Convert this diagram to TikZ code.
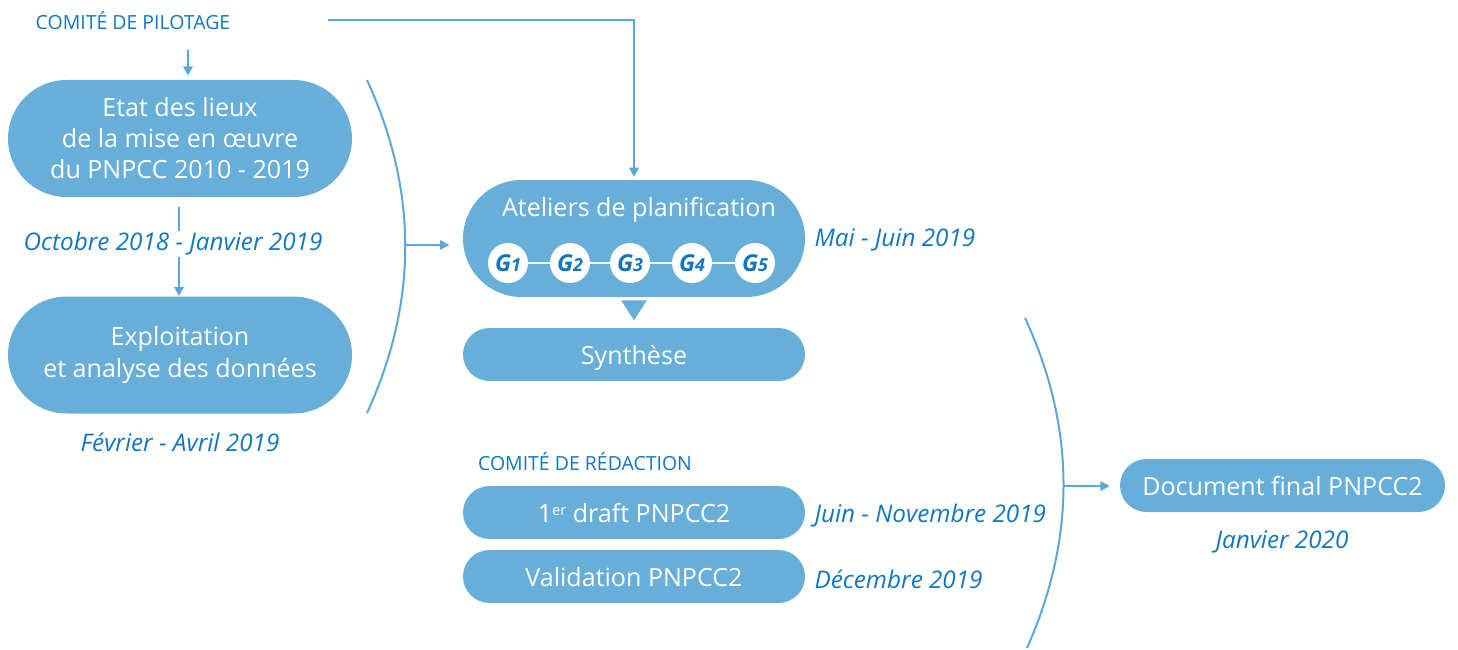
\documentclass[tikz,border=0pt]{standalone}
\usepackage{fontspec}
\setmainfont{Open Sans}
\usepackage{tikz}
\usepackage{xcolor}
\usetikzlibrary{shapes.misc}
\usetikzlibrary{arrows.meta}
\definecolor{boxblue}{HTML}{67AED9}
\definecolor{textblue}{HTML}{1477BD}
\definecolor{lineblue}{HTML}{5AA8D8}

\begin{document}
\begin{tikzpicture}[x=0.75pt,y=-0.75pt,
        pill/.style={rounded rectangle,fill=boxblue,text=white,align=center,inner sep=0pt,
            font=\fontsize{18.8}{23.3}\selectfont},
        bigpill/.style={pill,minimum width=258pt,minimum height=87.75pt},
        smallpill/.style={pill,minimum width=256.5pt,minimum height=39.75pt,text depth=0pt},
        date/.style={text=textblue,font=\fontsize{18.2}{22}\selectfont\itshape,inner sep=1pt},
        comite/.style={text=textblue,font=\fontsize{14.6}{17}\selectfont},
        link/.style={lineblue,line width=1.5pt},
        arr/.style={link,-{Triangle[length=7pt,width=7pt]}},
        gnode/.style={circle,fill=white,minimum size=30pt,inner sep=0pt,text=textblue,
            font=\fontsize{17.5}{20}\selectfont\bfseries\itshape}]
                    \useasboundingbox (0,0) rectangle (1458,649);

                    % left column
                    \node[comite] (pil) at (133,21){COMITÉ DE PILOTAGE};
                    \node[bigpill] (etat) at (180,138.5){Etat des lieux\\de la mise en œuvre\\du PNPCC 2010 - 2019};
                    \node[bigpill] (exploit) at (180,355){Exploitation\\et analyse des données};
                    \draw[arr,shorten <=7pt] (etat.south -| 179,0) -- (exploit.north -| 179,0);
                    \node[date,fill=white] (oct) at (173,244){Octobre 2018 - Janvier 2019};
                    \node[date] (fev) at (180,442){Février - Avril 2019};
                    \draw[arr,shorten <=11pt,shorten >=3pt] (pil.south -| 188,0) -- (etat.north -| 188,0);

                    % ateliers
                    \node[bigpill,minimum width=256.5pt] (atel) at (634,238.5){};
                    \node[pill] (ateltitle) at (639,210){Ateliers de planification};
                    \foreach \i/\x in {1/508,2/570,3/630,4/692,5/755}
                        \node[gnode] (g\i) at (\x,263){G\fontsize{13.5}{15}\selectfont\i};
                    \foreach \a/\b in {g1/g2,g2/g3,g3/g4,g4/g5}
                        \draw[white,line width=1.5pt] (\a) -- (\b);
                    \node[date,anchor=west] (mai) at (813,240){Mai - Juin 2019};
                    \coordinate (pilend) at (328,20);
                    \draw[arr,shorten >=2pt] (pilend) -| (atel.north);

                    \node[smallpill] (synth) at (634,354.5){Synthèse};
                    \fill[boxblue] (atel.south) ++(-13,3) -- ++(26,0) -- ++(-13,20) -- cycle;

                    % left bracket
                    \draw[link] (367,80) .. controls (418,191) and (418,302) .. (367,413);
                    \coordinate (brl) at (405,245);
                    \draw[arr,shorten >=10pt] (brl) -- (brl -| atel.west);

                    % redaction
                    \node[comite] (redac) at (585,462){COMITÉ DE RÉDACTION};
                    \node[smallpill] (draft) at (634,512.5){1{\fontsize{11}{12}\selectfont\raisebox{5pt}{er}} draft PNPCC2};
                    \node[smallpill] (valid) at (634,576.5){Validation PNPCC2};
                    \node[date,anchor=west] (juin) at (813,516){Juin - Novembre 2019};
                    \node[date,anchor=west] (dec) at (813,579){Décembre 2019};

                    % right bracket
                    \draw[link] (1025,318) .. controls (1076,428) and (1076,538) .. (1027,648);
                    \coordinate (brr) at (1063,486);
                    \node[smallpill,minimum width=243.75pt] (final) at (1282.5,485.5){Document final PNPCC2};
                    \draw[arr,shorten >=7.5pt] (brr) -- (brr -| final.west);
                    \node[date] (jan) at (1282,542){Janvier 2020};
                \end{tikzpicture}
\end{document}
